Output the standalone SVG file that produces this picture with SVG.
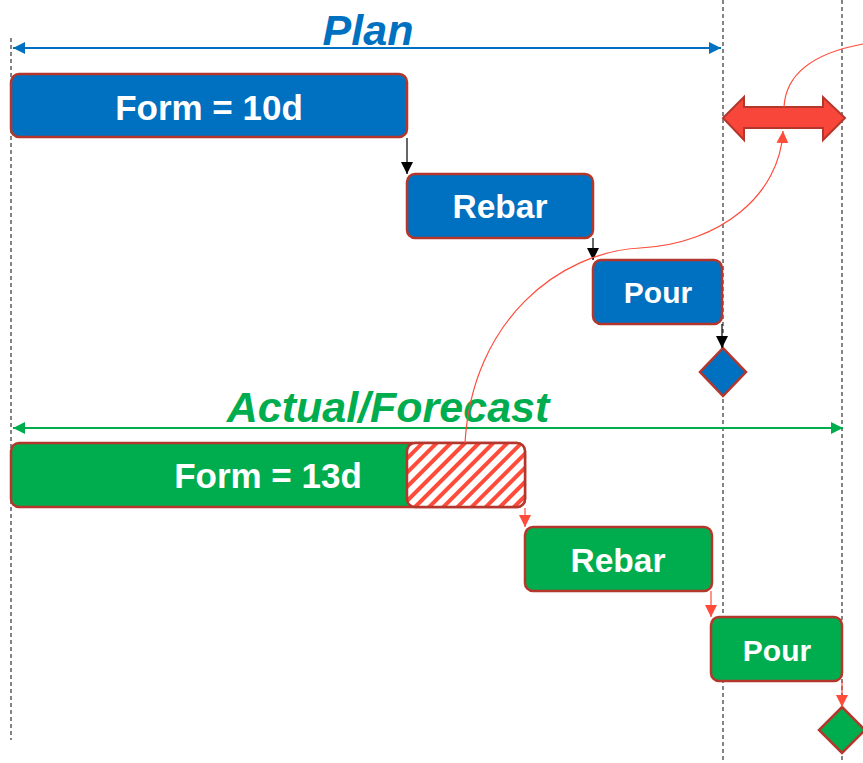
<svg xmlns="http://www.w3.org/2000/svg" width="863" height="763" viewBox="0 0 863 763">
<style>
.bx{stroke:#B5372C;stroke-width:2.5}
.blue{fill:#0070C0}
.green{fill:#00AD4E}
.lbl{font-family:"Liberation Sans",Arial,sans-serif;font-weight:bold;fill:#fff;text-anchor:middle}
.ttl{font-family:"Liberation Sans",Arial,sans-serif;font-weight:bold;font-style:italic;text-anchor:middle}
.dash{stroke:#333;stroke-width:1.2;stroke-dasharray:4 3;fill:none}
.dep{stroke:#000;stroke-width:1.2;fill:none}
.rdep{stroke:#FF4B3A;stroke-width:1.2;fill:none}
</style>
<defs>
<marker id="ab" viewBox="0 0 10 10" refX="10" refY="5" markerWidth="12" markerHeight="12" markerUnits="userSpaceOnUse" orient="auto"><path d="M0,0L10,5L0,10Z" fill="#000"/></marker>
<marker id="ar" viewBox="0 0 10 10" refX="10" refY="5" markerWidth="12" markerHeight="12" markerUnits="userSpaceOnUse" orient="auto"><path d="M0,0L10,5L0,10Z" fill="#FF4B3A"/></marker>
<marker id="abl" viewBox="0 0 10 10" refX="10" refY="5" markerWidth="12" markerHeight="12" markerUnits="userSpaceOnUse" orient="auto-start-reverse"><path d="M0,0L10,5L0,10Z" fill="#0070C0"/></marker>
<marker id="agr" viewBox="0 0 10 10" refX="10" refY="5" markerWidth="12" markerHeight="12" markerUnits="userSpaceOnUse" orient="auto-start-reverse"><path d="M0,0L10,5L0,10Z" fill="#00AD4E"/></marker>
<pattern id="hatch" width="10" height="10" patternUnits="userSpaceOnUse" patternTransform="rotate(45)">
<rect width="10" height="10" fill="#fff"/><rect width="4" height="10" fill="#FF4B3A"/>
</pattern>
</defs>
<rect width="863" height="763" fill="#fff"/>
<g id="guides">
<line class="dash" x1="11" y1="38" x2="11" y2="740"/>
<line class="dash" x1="723" y1="0" x2="723" y2="763"/>
<line class="dash" x1="842" y1="0" x2="842" y2="763"/>
</g>
<g id="titles">
<text class="ttl" x="368" y="45" font-size="43" fill="#0070C0">Plan</text>
<line x1="13" y1="48" x2="721" y2="48" stroke="#0070C0" stroke-width="2" marker-start="url(#abl)" marker-end="url(#abl)"/>
<text class="ttl" x="388" y="422" font-size="43" fill="#00AD4E">Actual/Forecast</text>
<line x1="13" y1="428" x2="843" y2="428" stroke="#00AD4E" stroke-width="2" marker-start="url(#agr)" marker-end="url(#agr)"/>
</g>
<g id="plan-form"><rect class="bx blue" x="11" y="74" width="396" height="63" rx="8"/><text class="lbl" x="209" y="120" font-size="35">Form = 10d</text></g>
<g id="plan-rebar"><rect class="bx blue" x="407" y="174" width="186" height="64" rx="8"/><text class="lbl" x="500" y="218" font-size="33.5">Rebar</text></g>
<g id="plan-pour"><rect class="bx blue" x="593" y="260" width="129" height="64" rx="8"/><text class="lbl" x="658" y="303" font-size="30">Pour</text></g>
<g id="plan-milestone"><path class="bx blue" d="M723,348L746,372L723,396L700,372Z"/></g>
<g id="act-form"><rect class="bx green" x="11" y="443" width="514" height="64" rx="8"/><text class="lbl" x="268" y="488" font-size="35">Form = 13d</text>
<rect class="bx" x="407" y="443" width="118" height="64" rx="8" fill="url(#hatch)"/></g>
<g id="act-rebar"><rect class="bx green" x="525" y="527" width="187" height="64" rx="8"/><text class="lbl" x="618" y="572" font-size="33.5">Rebar</text></g>
<g id="act-pour"><rect class="bx green" x="711" y="617" width="131" height="64" rx="8"/><text class="lbl" x="777" y="661" font-size="30">Pour</text></g>
<g id="act-milestone"><path class="bx green" d="M842,707L865,730L842,753L819,730Z"/></g>
<g id="delay"><path d="M723,118L744,97L744,107L823,107L823,97L845,118L823,140L823,128L744,128L744,140Z" fill="#F8473A" stroke="#B5372C" stroke-width="2" stroke-linejoin="miter"/></g>
<g id="connectors">
<line class="dep" x1="407" y1="138" x2="407" y2="174" marker-end="url(#ab)"/>
<line class="dep" x1="593" y1="238" x2="593" y2="260" marker-end="url(#ab)"/>
<line class="dep" x1="722" y1="324" x2="722" y2="348" marker-end="url(#ab)"/>
<line class="rdep" x1="525" y1="508" x2="525" y2="527" marker-end="url(#ar)"/>
<line class="rdep" x1="711" y1="591" x2="711" y2="617" marker-end="url(#ar)"/>
<line class="rdep" x1="842" y1="681" x2="842" y2="707" marker-end="url(#ar)"/>
<path class="rdep" d="M465,443C472,320 560,252 640,248C720,244 780,195 783,131" marker-end="url(#ar)"/>
<path class="rdep" d="M784,107C786,70 820,52 863,44"/>
</g>
</svg>
